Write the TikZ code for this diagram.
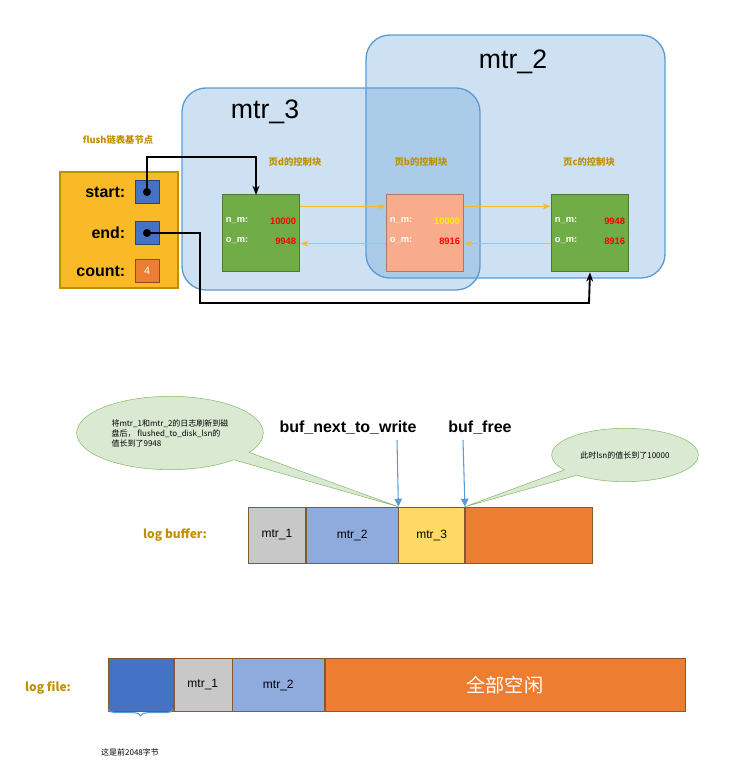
\documentclass[tikz,border=0pt]{standalone}
\usepackage{fontspec}
\setmainfont{Liberation Sans}
\newfontfamily\cjk{Noto Sans CJK SC}
\usetikzlibrary{arrows.meta,shapes.callouts,decorations.pathreplacing}
\definecolor{mtrblue}{RGB}{91,155,213}
\definecolor{gold}{RGB}{191,144,0}
\definecolor{pagegreen}{RGB}{112,173,71}
\definecolor{pagesalmon}{RGB}{248,172,140}
\definecolor{flushyellow}{RGB}{250,186,40}
\definecolor{cellblue}{RGB}{68,114,196}
\definecolor{cellorange}{RGB}{237,125,49}
\definecolor{cellgrey}{RGB}{200,200,200}
\definecolor{celllav}{RGB}{143,170,220}
\definecolor{cellsand}{RGB}{255,217,102}
\definecolor{bubble}{RGB}{218,234,210}
\definecolor{bubbleline}{RGB}{140,185,110}
\definecolor{arrowyellow}{RGB}{245,185,50}
\tikzset{
  mtr/.style={draw=mtrblue,line width=1pt,fill=mtrblue,fill opacity=0.3,draw opacity=1,rounded corners=18pt},
  page/.style={draw=#1!70!black,line width=1pt,fill=#1,minimum width=58pt,minimum height=58pt},
  ptr/.style={draw=cellblue!60!black,fill=cellblue,minimum width=18pt,minimum height=17pt,inner sep=0pt},
  cell/.style={draw=brown!70!black,fill=#1,minimum height=42pt,inner sep=0pt,font=\small},
  lbl/.style={font=\cjk\fontsize{7}{8}\selectfont\bfseries,text=gold},
  note/.style={ellipse callout,draw=bubbleline,fill=bubble,font=\cjk\fontsize{6}{7.5}\selectfont,align=left},
  link/.style={-{Stealth[length=6pt]},arrowyellow,line width=1.2pt},
  wire/.style={-{Stealth[length=7pt]},line width=1.4pt},
}
\begin{document}
\begin{tikzpicture}[x=0.75pt,y=0.75pt,yscale=-1,xscale=1]
\useasboundingbox (0,0) rectangle (747,771);

% mtr regions
\draw[mtr] (366,35) rectangle (665,278);
\draw[mtr] (182,88) rectangle (480,290);
\node (mtrb) at (513,62) {\fontsize{20}{22}\selectfont mtr\_2};
\node (mtrc) at (265,112) {\fontsize{20}{22}\selectfont mtr\_3};

% flush list base node
\node[lbl] (flushlbl) at (118,140) {flush链表基节点};
\draw[draw=gold,line width=1pt,fill=flushyellow] (60,172) rectangle (178,288);
\node[anchor=east,font=\large\bfseries] (startlbl) at (130,192) {start:};
\node[anchor=east,font=\large\bfseries] (endlbl) at (130,233) {end:};
\node[anchor=east,font=\large\bfseries] (countlbl) at (130,271) {count:};
\node[ptr] (startptr) at (147,192) {};
\node[ptr] (endptr) at (147,233) {};
\node[ptr,draw=cellorange!60!black,fill=cellorange,text=white,font=\footnotesize] (countval) at (147,271) {4};

% control blocks
\node[page=pagegreen] (pd) at (261,233) {};
\node[page=pagesalmon] (pb) at (425,233) {};
\node[page=pagegreen] (pc) at (590,233) {};
\node[lbl] at (295,162) {页d的控制块};
\node[lbl] at (421,162) {页b的控制块};
\node[lbl] at (589,162) {页c的控制块};
\foreach \p/\o/\n/\nc in {pd/9948/10000/red, pb/8916/10000/yellow, pc/8916/9948/red}{
  \node[anchor=west,font=\scriptsize\bfseries,text=white,inner sep=1pt] at ([xshift=2pt,yshift=6pt]\p.west) {o\_m:};
  \node[anchor=east,font=\scriptsize\bfseries,text=red,inner sep=1pt] at ([xshift=-2pt,yshift=6pt]\p.east) {\o};
  \node[anchor=west,font=\scriptsize\bfseries,text=white,inner sep=1pt] at ([xshift=2pt,yshift=-9pt]\p.west) {n\_m:};
  \node[anchor=east,font=\scriptsize\bfseries,text=\nc,inner sep=1pt] at ([xshift=-2pt,yshift=-9pt]\p.east) {\n};
}
\draw[link] ([yshift=8pt]pb.west) -- ([yshift=8pt]pd.east);
\draw[link] ([yshift=-20pt]pd.east) -- ([yshift=-20pt]pb.west);
\draw[link] ([yshift=8pt]pc.west) -- ([yshift=8pt]pb.east);
\draw[link] ([yshift=-20pt]pb.east) -- ([yshift=-20pt]pc.west);

% list pointers
\fill (startptr) circle (3pt);
\fill (endptr) circle (3pt);
\draw[wire] (startptr.center) -- (147,157) -- (256,157) -- (256,195);
\draw[wire] (endptr.center) -- (200,233) -- (200,303) -- (589,303) -- (pc.south);

% log buffer
\node[font=\cjk\small\bfseries,text=gold] (buflbl) at (175,535) {log buffer:};
\node[cell=cellgrey,minimum width=43pt,anchor=west] (b1) at (248,535) {mtr\_1};
\node[cell=celllav,minimum width=69pt,anchor=west] (b2) at (b1.east) {mtr\_2};
\node[cell=cellsand,minimum width=49.5pt,anchor=west] (b3) at (b2.east) {mtr\_3};
\node[cell=cellorange,minimum width=95pt,anchor=west] (b4) at (b3.east) {};
\node[font=\large\bfseries] (nextlbl) at (348,428) {buf\_next\_to\_write};
\node[font=\large\bfseries] (freelbl) at (480,428) {buf\_free};
\coordinate (nextpt) at (b3.north west);
\coordinate (freept) at (b4.north west);
\draw[-{Triangle[length=6pt]},mtrblue,line width=0.8pt] (397,440) -- (nextpt);
\draw[-{Triangle[length=6pt]},mtrblue,line width=0.8pt] (463,440) -- (freept);
\node[note,minimum width=140pt,minimum height=55pt,callout absolute pointer=(nextpt)] (note1) at (170,433)
  {将mtr\_1和mtr\_2的日志刷新到磁\\盘后， flushed\_to\_disk\_lsn的\\值长到了9948};
\node[note,minimum width=110pt,minimum height=40pt,callout absolute pointer=(freept)] (note2) at (625,455)
  {此时lsn的值长到了10000};

% log file
\node[font=\cjk\small\bfseries,text=gold] (filelbl) at (48,688) {log file:};
\node[cell=cellblue,minimum width=48.75pt,minimum height=40pt,anchor=west] (f0) at (108,685) {};
\node[cell=cellgrey,minimum width=43.5pt,minimum height=40pt,anchor=west] (f1) at (f0.east) {mtr\_1};
\node[cell=celllav,minimum width=69pt,minimum height=40pt,anchor=west] (f2) at (f1.east) {mtr\_2};
\node[cell=cellorange,minimum width=270pt,minimum height=40pt,anchor=west,text=white,font=\cjk\Large] (f3) at (f2.east) {全部空闲};
\draw[decorate,decoration={brace,mirror,amplitude=5pt},mtrblue,line width=0.8pt] ([yshift=-2pt]f0.south west) -- ([yshift=-2pt]f0.south east);
\node[font=\cjk\fontsize{6}{7}\selectfont] (headnote) at (130,752) {这是前2048字节};
\end{tikzpicture}
\end{document}
